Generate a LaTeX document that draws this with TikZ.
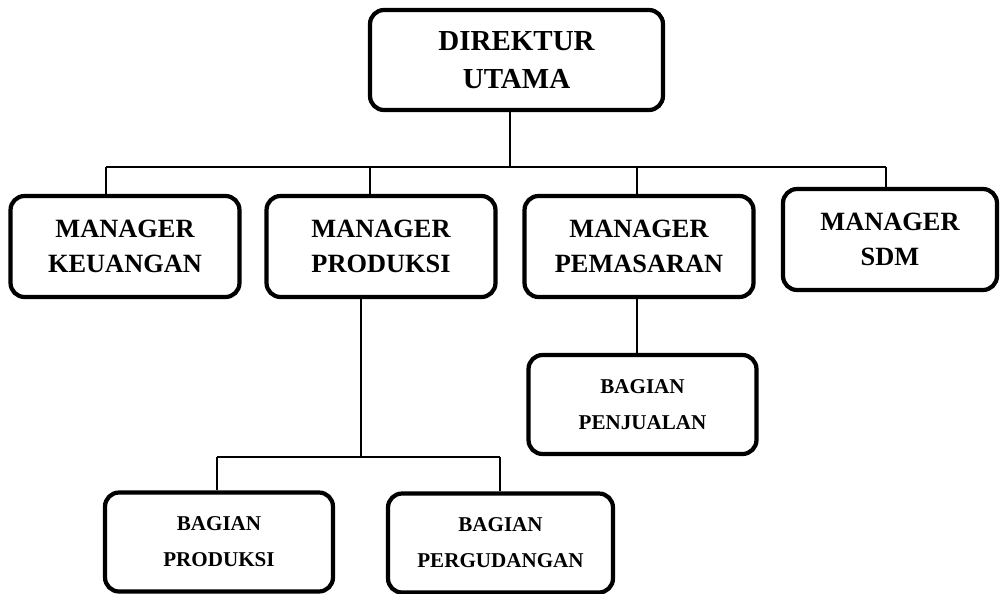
\documentclass[tikz,border=0pt]{standalone}
\usepackage{fontspec}
\setmainfont{Liberation Serif}
\begin{document}
\begin{tikzpicture}[x=0.02cm,y=-0.02cm]
\tikzset{kotak/.style={rectangle, rounded corners=0.28cm, line width=2.4pt, draw=black, align=center, inner sep=0}}
\tikzset{manager/.style={kotak, minimum width=4.58cm, minimum height=2.02cm, font=\fontsize{15}{20}\selectfont\bfseries}}
\tikzset{bagian/.style={kotak, minimum width=4.56cm, minimum height=1.98cm, font=\fontsize{12}{20.5}\selectfont\bfseries}}
\tikzset{garis/.style={line width=1.1pt, draw=black}}
\useasboundingbox (0,0) rectangle (1000,593);
\node[kotak, minimum width=5.86cm, minimum height=2cm, font=\fontsize{16.5}{22}\selectfont\bfseries] at (516.5,60) (dirut) {DIREKTUR\\UTAMA};
\node[manager] at (125,246.5) (keu) {MANAGER\\KEUANGAN};
\node[manager] at (381,246.5) (prod) {MANAGER\\PRODUKSI};
\node[manager] at (639,246.5) (pem) {MANAGER\\PEMASARAN};
\node[manager, minimum width=4.28cm] at (890,239.5) (sdm) {MANAGER\\SDM};
\node[bagian] at (642.5,404.5) (penj) {BAGIAN\\PENJUALAN};
\node[bagian] at (219,542) (bprod) {BAGIAN\\PRODUKSI};
\node[bagian, minimum width=4.5cm] at (500.5,543) (bgud) {BAGIAN\\PERGUDANGAN};
\coordinate (bus) at (510,167);
\coordinate (t1) at (106,167);
\coordinate (t2) at (370,167);
\coordinate (t3) at (637,167);
\coordinate (t4) at (886,167);
\coordinate (p0) at (361,457);
\coordinate (p1) at (217,457);
\coordinate (p2) at (500,457);
\coordinate (q) at (637,330);
			\draw [garis] (dirut.south -| bus) -- (bus);
			\draw [garis] (t1) -- (t4);
			\draw [garis] (t1) -- (t1 |- keu.north);
			\draw [garis] (t2) -- (t2 |- prod.north);
			\draw [garis] (t3) -- (t3 |- pem.north);
			\draw [garis] (t4) -- (t4 |- sdm.north);

			% bawah manager
			\draw [garis] (q |- pem.south) -- (q |- penj.north);
			\draw [garis] (prod.south -| p0) -- (p0);
			\draw [garis] (p1) -- (p2);
			\draw [garis] (p1) -- (p1 |- bprod.north);
			\draw [garis] (p2) -- (p2 |- bgud.north);
\end{tikzpicture}
\end{document}
